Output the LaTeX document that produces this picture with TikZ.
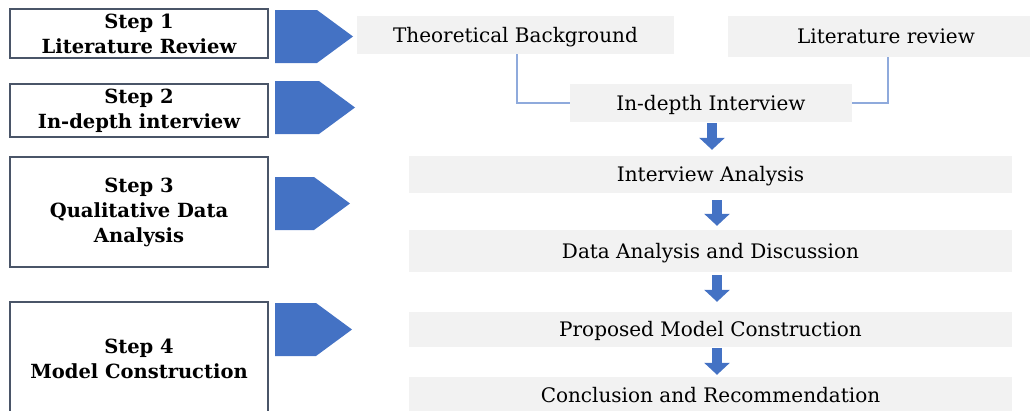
\documentclass[tikz,border=0pt]{standalone}
\usepackage{fontspec}
\setmainfont{DejaVu Serif}
\usepackage{tikz}
\usetikzlibrary{arrows.meta,positioning,calc}

\definecolor{officeblue}{HTML}{4472C4}
\definecolor{linkblue}{HTML}{8FAADC}
\definecolor{boxgray}{HTML}{F2F2F2}
\definecolor{frame}{HTML}{4A5568}

\begin{document}
\begin{tikzpicture}[x=1pt, y=-1pt,
    stepbox/.style={draw=frame, line width=1.2pt, fill=white, minimum width=258pt, align=center,
        inner sep=0pt, font=\bfseries\fontsize{19.5}{25}\selectfont},
    graybox/.style={fill=boxgray, inner sep=0pt, text height=14.6pt, text depth=0pt,
        font=\fontsize{20}{24}\selectfont},
    link/.style={draw=linkblue, line width=1.5pt},
    downarrow/.style={draw=officeblue, line width=10pt, -{Triangle[width=25pt,length=12pt]}}]
    \clip (0,0) rectangle (1030,410);
    \useasboundingbox (0,0) rectangle (1030,410);

    % steps on the left
    \node[stepbox, minimum height=49pt] (s1) at (139,33.5) {Step 1\\Literature Review};
    \node[stepbox, minimum height=53pt] (s2) at (139,110.5) {Step 2\\In-depth interview};
    \node[stepbox, minimum height=110pt] (s3) at (139,212) {Step 3\\Qualitative Data\\Analysis};
    \node[stepbox, minimum height=113pt] (s4) at (139,358.5) {Step 4\\Model Construction};

    % blue pentagons
    \foreach \top/\tip in {10/353, 81/355, 177/350, 303/352}
        \fill[officeblue] (275,\top) -- (\tip-36,\top) -- (\tip,\top+26.5) -- (\tip-36,\top+53) -- (275,\top+53) -- cycle;

    % process boxes
    \node[graybox, minimum width=317pt, minimum height=38pt] (tb) at (515.5,35) {Theoretical Background};
    \node[graybox, minimum width=316pt, minimum height=41pt] (lr) at (886,36.5) {Literature review};
    \node[graybox, minimum width=282pt, minimum height=38pt] (ida) at (711,103) {In-depth Interview};
    \node[graybox, minimum width=603pt, minimum height=37pt] (ia) at (710.5,174.5) {Interview Analysis};
    \node[graybox, minimum width=603pt, minimum height=42pt] (da) at (710.5,251) {Data Analysis and Discussion};
    \node[graybox, minimum width=603pt, minimum height=35pt] (pm) at (710.5,329.5) {Proposed Model Construction};
    \node[graybox, minimum width=603pt, minimum height=36pt] (cr) at (710.5,395) {Conclusion and Recommendation};

    % connectors
    \draw[link] ([xshift=1.5pt]tb.south) |- (ida.west);
    \draw[link] ([xshift=2pt]lr.south) |- (ida.east);

    \draw[downarrow] ([shift={(1,1)}]ida.south) -- ([shift={(1.5,-6)}]ia.north);
    \draw[downarrow] ([shift={(6.5,7)}]ia.south) -- ([shift={(6.5,-4)}]da.north);
    \draw[downarrow] ([shift={(6.5,3)}]da.south) -- ([shift={(6.5,-10)}]pm.north);
    \draw[downarrow] ([shift={(6.5,1)}]pm.south) -- ([shift={(6.5,-2)}]cr.north);
\end{tikzpicture}
\end{document}
